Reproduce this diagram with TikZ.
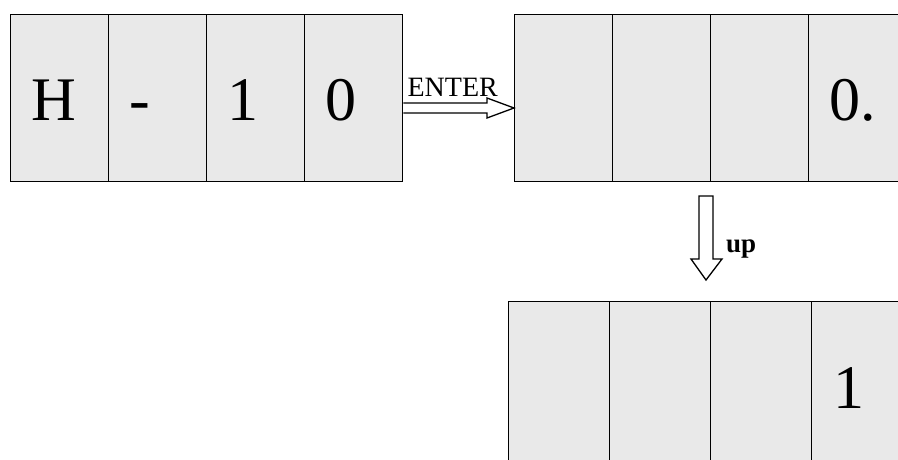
\documentclass[tikz,border=0pt]{standalone}
\usepackage{fontspec}
\setmainfont{Liberation Serif}
\usetikzlibrary{calc}
\definecolor{cellgray}{HTML}{E9E9E9}
\begin{document}
\begin{tikzpicture}[x=1pt,y=-1pt,
  cell/.style={draw=black, line width=1.4pt, fill=cellgray, minimum width=98pt,
    minimum height=167pt, inner sep=0pt, anchor=north west},
  wcell/.style={cell, minimum width=101pt},
  digit/.style={font=\fontsize{62}{62}\selectfont, anchor=base west, inner sep=0pt},
  hollow/.style={draw=black, line width=1.3pt, fill=white, line join=miter}]
\useasboundingbox (0,0) rectangle (898,460);
\clip (0,0) rectangle (898,460);
% box 1
\node[cell] (a1) at (10,14) {};
\node[cell] (a2) at (108,14) {};
\node[cell] (a3) at (206,14) {};
\node[cell] (a4) at (304,14) {};
% box 2
\node[cell] (b1) at (514,14) {};
\node[cell] (b2) at (612,14) {};
\node[cell] (b3) at (710,14) {};
\node[cell] (b4) at (808,14) {};
% box 3
\node[wcell] (c1) at (508,301) {};
\node[wcell] (c2) at (609,301) {};
\node[wcell] (c3) at (710,301) {};
\node[wcell] (c4) at (811,301) {};
% texts
\node[digit] (ta1) at ($(a1.north west)+(21,107)$) {H};
\node[digit] (ta2) at ($(a2.north west)+(21,107)$) {-};
\node[digit] (ta3) at ($(a3.north west)+(21,107)$) {1};
\node[digit] (ta4) at ($(a4.north west)+(21,107)$) {0};
\node[digit] (tb4) at ($(b4.north west)+(21,107)$) {0.};
\node[digit] (tc4) at ($(c4.north west)+(22,107)$) {1};
% ENTER arrow
\coordinate (ea) at ($(a4.north east)+(0,94)$);
\coordinate (eb) at ($(b1.north west)+(0,94)$);
\draw[hollow] ($(ea)+(0,-5)$) -- ($(eb)+(-27,-5)$) -- ($(eb)+(-27,-10)$) -- (eb)
  -- ($(eb)+(-27,10)$) -- ($(eb)+(-27,5)$) -- ($(ea)+(0,5)$);
\node[font=\fontsize{28}{28}\selectfont, anchor=base west, inner sep=0pt] (enter)
  at ($(ea)+(4,-12)$) {ENTER};
% up arrow
\coordinate (ua) at (706,196);
\coordinate (ub) at (706,280);
\draw[hollow] ($(ua)+(-7,0)$) -- ($(ua)+(7,0)$) -- ($(ub)+(7,-21)$) -- ($(ub)+(16,-21)$)
  -- (ub) -- ($(ub)+(-15,-21)$) -- ($(ub)+(-7,-21)$) -- cycle;
\node[font=\fontsize{27}{27}\selectfont\bfseries, anchor=base west, inner sep=0pt] (up)
  at (726,252) {up};
\end{tikzpicture}
\end{document}
